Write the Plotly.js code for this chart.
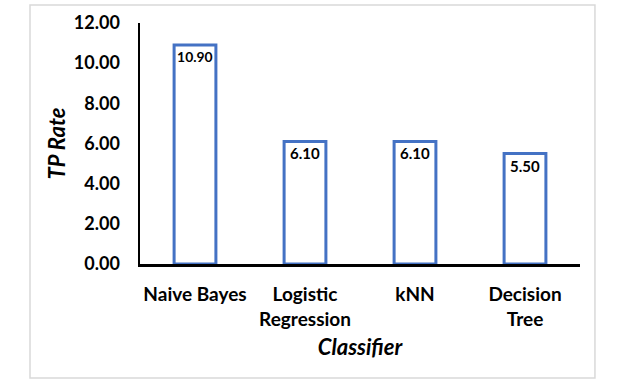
<!DOCTYPE html>
<html>
<head>
<meta charset="utf-8">
<script src="https://cdn.plot.ly/plotly-3.0.1.min.js"></script>
<style>
  body { margin: 0; background: #fff; }
  #chart { width: 620px; height: 391px; }
</style>
</head>
<body>
<div id="chart"></div>
<script>
// classifier names and their TP rate
const classifiers = ['Naive Bayes', 'Logistic<br>Regression', 'kNN', 'Decision<br>Tree'];
const tpRate = [10.90, 6.10, 6.10, 5.50];
const yTicks = [0, 2, 4, 6, 8, 10, 12];

const fontFam = 'Lato, "Open Sans", sans-serif';

function drawChart() {
  let trace = {
    type: 'bar',
    x: classifiers,
    y: tpRate,
    width: 0.38,
    marker: {color: '#ffffff', line: {color: '#4472C4', width: 3}},
    text: tpRate.map(v => v.toFixed(2)),
    textposition: 'inside',
    insidetextanchor: 'end',
    textangle: 0,
    textfont: {family: fontFam, size: 15, color: '#000', weight: 'bold'},
    hoverinfo: 'none'
  };

  let layout = {
    width: 620,
    height: 391,
    margin: {l: 140, r: 40, t: 23, b: 127},
    paper_bgcolor: '#fff',
    plot_bgcolor: '#fff',
    showlegend: false,
    font: {family: fontFam, color: '#000'},
    xaxis: {
      showline: true, linecolor: '#000', linewidth: 2.5,
      ticks: '', showgrid: false, zeroline: false,
      ticklabelstandoff: 12,
      tickfont: {size: 19, weight: 'bold'},
      title: {text: 'Classifier', standoff: 11, font: {size: 22, weight: 'bold', style: 'italic'}}
    },
    yaxis: {
      range: [0, 12],
      tickvals: yTicks,
      ticktext: yTicks.map(v => v.toFixed(2)),
      showline: true, linecolor: '#000', linewidth: 2.5,
      ticks: '', ticklabelstandoff: 14,
      showgrid: false, zeroline: false,
      tickfont: {size: 18, weight: 'bold'},
      title: {text: 'TP Rate', standoff: 2, font: {size: 22, weight: 'bold', style: 'italic'}}
    },
    shapes: [{
      type: 'rect', xref: 'paper', yref: 'paper',
      x0: -0.25, x1: 1.034, y0: -0.473, y1: 1.075,
      line: {color: '#d9d9d9', width: 1.5}, fillcolor: 'rgba(0,0,0,0)'
    }]
  };

  Plotly.newPlot('chart', [trace], layout, {staticPlot: true});
}

drawChart();
</script>
</body>
</html>
